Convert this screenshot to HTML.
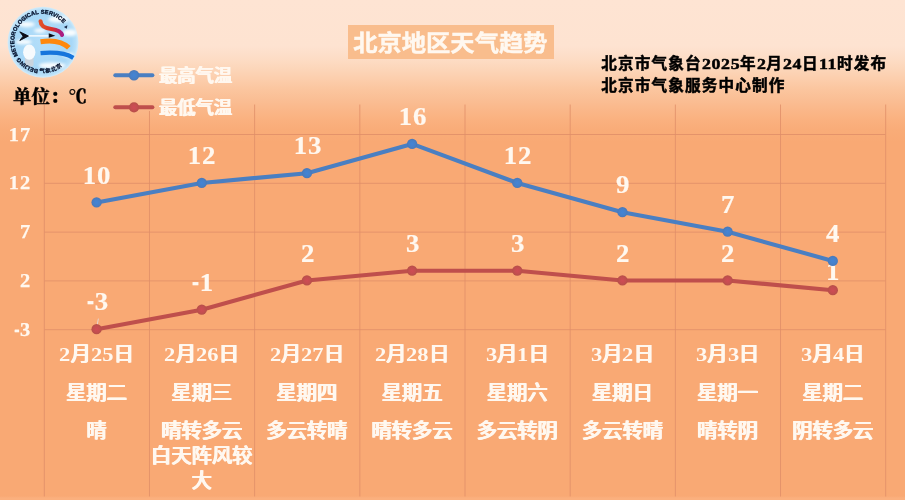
<!DOCTYPE html>
<html lang="zh-CN">
<head>
<meta charset="utf-8">
<title>北京地区天气趋势</title>
<style>
html,body{margin:0;padding:0}
body{width:905px;height:500px;overflow:hidden;position:relative;
 background:linear-gradient(to bottom,#fee4d3 0px,#fee3d1 46px,#fddfca 54px,#fddcc4 60px,#fcd5b8 70px,#fccdab 80px,#fbc59e 90px,#fabe94 100px,#fab789 110px,#fab17f 120px,#f9ac78 130px,#f9a974 142px,#f9a974 496px,#fbb07e 498px);
 font-family:"Liberation Serif","Noto Sans CJK SC",sans-serif;font-weight:bold;}
#chart,#top{position:absolute;left:0;top:0}
#top{z-index:3}
.g{stroke:#e08e68;stroke-width:1;opacity:.8}
.n{--s:1.18;--ls:.1px;display:inline-block;font-size:.94em;letter-spacing:calc(var(--ls)/var(--s));transform:scaleX(var(--s));transform-origin:0 100%;margin-right:calc(var(--n)*(0.5em + var(--ls)/var(--s))*(var(--s) - 1))}
.xl .n{font-weight:700;text-shadow:none}
.info .n{--s:1.16;--ls:.62px;font-size:15.4px}
.w{-webkit-text-stroke:.15px #fff8f0;color:#fff8f0}
.title{position:absolute;left:347.7px;top:24.9px;width:206px;height:33.8px;background:#f9bd8d;
 font-size:22.6px;line-height:37.2px;text-align:center;white-space:nowrap}
.title span{display:inline-block;transform:scaleX(1.075);-webkit-text-stroke:.45px #fff8f0}
.info{position:absolute;left:601.3px;top:53px;color:#000;font-size:15.6px;letter-spacing:1.15px;line-height:22.3px;white-space:nowrap;-webkit-text-stroke:.5px #000}
.unit{position:absolute;left:13px;top:85px;color:#000;font-size:18.5px;line-height:24px;white-space:nowrap;font-family:"Liberation Serif","Noto Serif CJK SC",serif;font-weight:900;-webkit-text-stroke:.3px #000}
.lg{position:absolute;left:159px;font-size:18.3px;line-height:24px;white-space:nowrap;font-weight:500;-webkit-text-stroke:0;text-shadow:.7px 0 0 #fff8f0,-.7px 0 0 #fff8f0}
.m{display:inline-block;transform:scale(.78,1.35);transform-origin:50% 68%;margin:0 -.05em 0 -.02em}
.yl{position:absolute;left:0;width:31.1px;text-align:right;transform-origin:100% 50%;font-size:18.6px;line-height:24px;letter-spacing:.8px;transform:scaleX(1.1);color:#fff8f0;-webkit-text-stroke:.25px #fff8f0}
.dl{position:absolute;width:60px;text-align:center;font-size:24.6px;line-height:26px;letter-spacing:.7px;transform:scaleX(1.09);color:#fff8f0;-webkit-text-stroke:.2px #fff8f0}
.xl{font-weight:500;-webkit-text-stroke:0;text-shadow:.7px 0 0 #fff8f0,-.7px 0 0 #fff8f0;position:absolute;width:105.17px;text-align:center;font-size:20.3px;line-height:25px;white-space:normal;word-break:break-all}
</style>
</head>
<body>
<svg id="chart" width="905" height="500" viewBox="0 0 905 500">
<line x1="44.30" y1="104.5" x2="44.30" y2="496.5" class="g"/>
<line x1="149.48" y1="111" x2="149.48" y2="496.5" class="g"/>
<line x1="254.65" y1="104.5" x2="254.65" y2="496.5" class="g"/>
<line x1="359.82" y1="104.5" x2="359.82" y2="496.5" class="g"/>
<line x1="465.00" y1="104.5" x2="465.00" y2="496.5" class="g"/>
<line x1="570.17" y1="104.5" x2="570.17" y2="496.5" class="g"/>
<line x1="675.35" y1="104.5" x2="675.35" y2="496.5" class="g"/>
<line x1="780.52" y1="104.5" x2="780.52" y2="496.5" class="g"/>
<line x1="885.70" y1="104.5" x2="885.70" y2="496.5" class="g"/>
<line x1="44.5" y1="134.50" x2="885.40" y2="134.50" class="g"/>
<line x1="44.5" y1="183.30" x2="885.40" y2="183.30" class="g"/>
<line x1="44.5" y1="232.10" x2="885.40" y2="232.10" class="g"/>
<line x1="44.5" y1="280.90" x2="885.40" y2="280.90" class="g"/>
<line x1="44.5" y1="329.70" x2="885.40" y2="329.70" class="g"/>
<defs><radialGradient id="mb"><stop offset="0" stop-color="#4384d6"/><stop offset="0.6" stop-color="#4780c8"/><stop offset="1" stop-color="#4a78b8"/></radialGradient><radialGradient id="mr"><stop offset="0" stop-color="#cf4c55"/><stop offset="0.6" stop-color="#c44e50"/><stop offset="1" stop-color="#b65048"/></radialGradient></defs>
<line x1="98.4" y1="318.6" x2="96.6" y2="328" stroke="#e6d6d2" stroke-width="1"/>
<line x1="115.3" y1="75.2" x2="152.4" y2="75.2" stroke="#4a7fc2" stroke-width="4" stroke-linecap="round"/><circle cx="134" cy="75.2" r="5.3" fill="url(#mb)"/>
<line x1="115.3" y1="107.3" x2="152.4" y2="107.3" stroke="#bf4f4c" stroke-width="4" stroke-linecap="round"/><circle cx="134" cy="107.3" r="5.1" fill="url(#mr)"/>
<defs>
<radialGradient id="sky" cx="0.5" cy="0.5" r="0.5">
<stop offset="0" stop-color="#b4def9"/><stop offset="0.8" stop-color="#a6d7f7"/><stop offset="0.93" stop-color="#b8e0f9"/><stop offset="1" stop-color="#d6ecf8"/>
</radialGradient>
<linearGradient id="rs" x1="0" y1="0" x2="1" y2="0">
<stop offset="0" stop-color="#e2502c"/><stop offset="0.55" stop-color="#d8302c"/><stop offset="1" stop-color="#a81c84"/>
</linearGradient>
<filter id="lb" x="-10%" y="-10%" width="120%" height="120%"><feGaussianBlur stdDeviation="0.5"/></filter>
<filter id="cb" x="-30%" y="-30%" width="160%" height="160%"><feGaussianBlur stdDeviation="1.5"/></filter>
<clipPath id="lc"><circle cx="43" cy="42.4" r="34.6"/></clipPath>
<path id="ring1" d="M384.1 687.4 A272.0 272.0 0 1 1 689.9 370.8"/>
<path id="ring2" d="M393.1 720.7 A303.0 303.0 0 0 0 692.4 571.5"/>
</defs>
<g filter="url(#lb)" transform="translate(43 42.3) scale(1.025) translate(-43 -42.4)">
<circle cx="43" cy="42.4" r="34.6" fill="url(#sky)"/>
<g clip-path="url(#lc)">
<g filter="url(#cb)" fill="#fff" opacity="0.92">
<ellipse cx="58" cy="20" rx="10" ry="3.4"/>
<ellipse cx="69" cy="33" rx="7" ry="3.4"/>
<ellipse cx="27" cy="25" rx="8" ry="2.6"/>
<ellipse cx="24" cy="42" rx="8" ry="2.4"/>
<ellipse cx="52" cy="65" rx="13" ry="3"/>
<ellipse cx="68" cy="55" rx="5" ry="2.2"/>
<ellipse cx="40" cy="31" rx="6" ry="2"/>
</g>
</g>
<rect x="25.4" y="56" width="8.4" height="10" rx="2" fill="#c9d4de"/>
<ellipse cx="29.6" cy="52" rx="6" ry="7.4" fill="#f6fafd"/>
<rect x="27" y="35.5" width="23" height="1.3" fill="#fff"/>
<path d="M20.4 32.2 L28.8 36.3 L20.4 40.6 L23.6 36.4 Z" fill="#0a0a14" stroke="#0a0a14" stroke-width="0.9" stroke-linejoin="round"/>
<path d="M48.6 33.6 L55 35.9 L48.6 38 Z" fill="#0a0a14"/>
<path d="M40.6 21.8 C40.8 27.2 45 28.6 51 29.4 C57 30.2 60.6 31.8 61.6 35.2" fill="none" stroke="url(#rs)" stroke-width="4" stroke-linecap="round"/>
<path d="M40.6 41.8 C51 40.2 62 41.6 68.2 47.8" fill="none" stroke="#ff8808" stroke-width="4.9"/>
<path d="M40.6 53 C52 52 65 52.8 72.6 57.6" fill="none" stroke="#1674dc" stroke-width="4.2"/>
<path d="M63.4 27.4 l3.4 -1.6 l-0.6 3.4 z" fill="#1a2a4a"/>
<g transform="scale(0.1)">
<text font-family="'Liberation Sans',sans-serif" font-weight="bold" font-size="55.0" fill="#071430" stroke="#071430" stroke-width="3.2" letter-spacing="1.2"><textPath href="#ring1">BEIJING METEOROLOGICAL SERVICE</textPath></text>
<text font-family="'Liberation Sans','Noto Sans CJK SC',sans-serif" font-weight="bold" font-size="55.0" fill="#071430" stroke="#071430" stroke-width="2" letter-spacing="6.0"><textPath href="#ring2">气象北京</textPath></text>
</g>
</g>

</svg>
<div class="title w"><span>北京地区天气趋势</span></div>
<div class="info">北京市气象台<span class="n" style="--n:4">2025</span>年<span class="n" style="--n:1">2</span>月<span class="n" style="--n:2">24</span>日<span class="n" style="--n:2">11</span>时发布<br>北京市气象服务中心制作</div>
<div class="unit">单位：℃</div>
<div class="lg w" style="top:63.6px">最高气温</div>
<div class="lg w" style="top:96.3px">最低气温</div>
<svg id="top" width="905" height="500" viewBox="0 0 905 500">
<polyline points="96.59,202.45 201.76,182.95 306.94,173.20 412.11,143.95 517.29,182.95 622.46,212.20 727.64,231.70 832.81,260.95" fill="none" stroke="#4a7fc2" stroke-width="4.1" stroke-linejoin="round" stroke-linecap="round"/><circle cx="96.59" cy="202.45" r="5.15" fill="url(#mb)"/><circle cx="201.76" cy="182.95" r="5.15" fill="url(#mb)"/><circle cx="306.94" cy="173.20" r="5.15" fill="url(#mb)"/><circle cx="412.11" cy="143.95" r="5.15" fill="url(#mb)"/><circle cx="517.29" cy="182.95" r="5.15" fill="url(#mb)"/><circle cx="622.46" cy="212.20" r="5.15" fill="url(#mb)"/><circle cx="727.64" cy="231.70" r="5.15" fill="url(#mb)"/><circle cx="832.81" cy="260.95" r="5.15" fill="url(#mb)"/>
<polyline points="96.59,329.20 201.76,309.70 306.94,280.45 412.11,270.70 517.29,270.70 622.46,280.45 727.64,280.45 832.81,290.20" fill="none" stroke="#bf4f4c" stroke-width="4.1" stroke-linejoin="round" stroke-linecap="round"/><circle cx="96.59" cy="329.20" r="5.15" fill="url(#mr)"/><circle cx="201.76" cy="309.70" r="5.15" fill="url(#mr)"/><circle cx="306.94" cy="280.45" r="5.15" fill="url(#mr)"/><circle cx="412.11" cy="270.70" r="5.15" fill="url(#mr)"/><circle cx="517.29" cy="270.70" r="5.15" fill="url(#mr)"/><circle cx="622.46" cy="280.45" r="5.15" fill="url(#mr)"/><circle cx="727.64" cy="280.45" r="5.15" fill="url(#mr)"/><circle cx="832.81" cy="290.20" r="5.15" fill="url(#mr)"/>
</svg>
<div class="yl" style="top:122.7px">17</div>
<div class="yl" style="top:171.4px">12</div>
<div class="yl" style="top:220.2px">7</div>
<div class="yl" style="top:268.9px">2</div>
<div class="yl" style="top:317.7px"><span class="m">-</span>3</div>
<div class="dl" style="left:67.2px;top:162.6px">10</div>
<div class="dl" style="left:172.4px;top:143.1px">12</div>
<div class="dl" style="left:277.5px;top:133.3px">13</div>
<div class="dl" style="left:382.7px;top:104.0px">16</div>
<div class="dl" style="left:487.9px;top:143.1px">12</div>
<div class="dl" style="left:593.1px;top:172.3px">9</div>
<div class="dl" style="left:698.2px;top:191.8px">7</div>
<div class="dl" style="left:803.4px;top:221.1px">4</div>
<div class="dl" style="left:67.6px;top:289.3px"><span class="m">-</span>3</div>
<div class="dl" style="left:172.8px;top:269.8px"><span class="m">-</span>1</div>
<div class="dl" style="left:277.5px;top:240.6px">2</div>
<div class="dl" style="left:382.7px;top:230.8px">3</div>
<div class="dl" style="left:487.9px;top:230.8px">3</div>
<div class="dl" style="left:593.1px;top:240.6px">2</div>
<div class="dl" style="left:698.2px;top:240.6px">2</div>
<div class="dl" style="left:803.4px;top:259.3px">1</div>
<div class="xl w" style="left:44.0px;top:342.2px"><span class="n" style="--n:1">2</span>月<span class="n" style="--n:2">25</span>日</div>
<div class="xl w" style="left:44.0px;top:381.4px">星期二</div>
<div class="xl w" style="left:44.0px;top:418.7px">晴</div>
<div class="xl w" style="left:149.2px;top:342.2px"><span class="n" style="--n:1">2</span>月<span class="n" style="--n:2">26</span>日</div>
<div class="xl w" style="left:149.2px;top:381.4px">星期三</div>
<div class="xl w" style="left:149.2px;top:418.7px">晴转多云<br>白天阵风较大</div>
<div class="xl w" style="left:254.3px;top:342.2px"><span class="n" style="--n:1">2</span>月<span class="n" style="--n:2">27</span>日</div>
<div class="xl w" style="left:254.3px;top:381.4px">星期四</div>
<div class="xl w" style="left:254.3px;top:418.7px">多云转晴</div>
<div class="xl w" style="left:359.5px;top:342.2px"><span class="n" style="--n:1">2</span>月<span class="n" style="--n:2">28</span>日</div>
<div class="xl w" style="left:359.5px;top:381.4px">星期五</div>
<div class="xl w" style="left:359.5px;top:418.7px">晴转多云</div>
<div class="xl w" style="left:464.7px;top:342.2px"><span class="n" style="--n:1">3</span>月<span class="n" style="--n:1">1</span>日</div>
<div class="xl w" style="left:464.7px;top:381.4px">星期六</div>
<div class="xl w" style="left:464.7px;top:418.7px">多云转阴</div>
<div class="xl w" style="left:569.9px;top:342.2px"><span class="n" style="--n:1">3</span>月<span class="n" style="--n:1">2</span>日</div>
<div class="xl w" style="left:569.9px;top:381.4px">星期日</div>
<div class="xl w" style="left:569.9px;top:418.7px">多云转晴</div>
<div class="xl w" style="left:675.0px;top:342.2px"><span class="n" style="--n:1">3</span>月<span class="n" style="--n:1">3</span>日</div>
<div class="xl w" style="left:675.0px;top:381.4px">星期一</div>
<div class="xl w" style="left:675.0px;top:418.7px">晴转阴</div>
<div class="xl w" style="left:780.2px;top:342.2px"><span class="n" style="--n:1">3</span>月<span class="n" style="--n:1">4</span>日</div>
<div class="xl w" style="left:780.2px;top:381.4px">星期二</div>
<div class="xl w" style="left:780.2px;top:418.7px">阴转多云</div>
</body>
</html>
